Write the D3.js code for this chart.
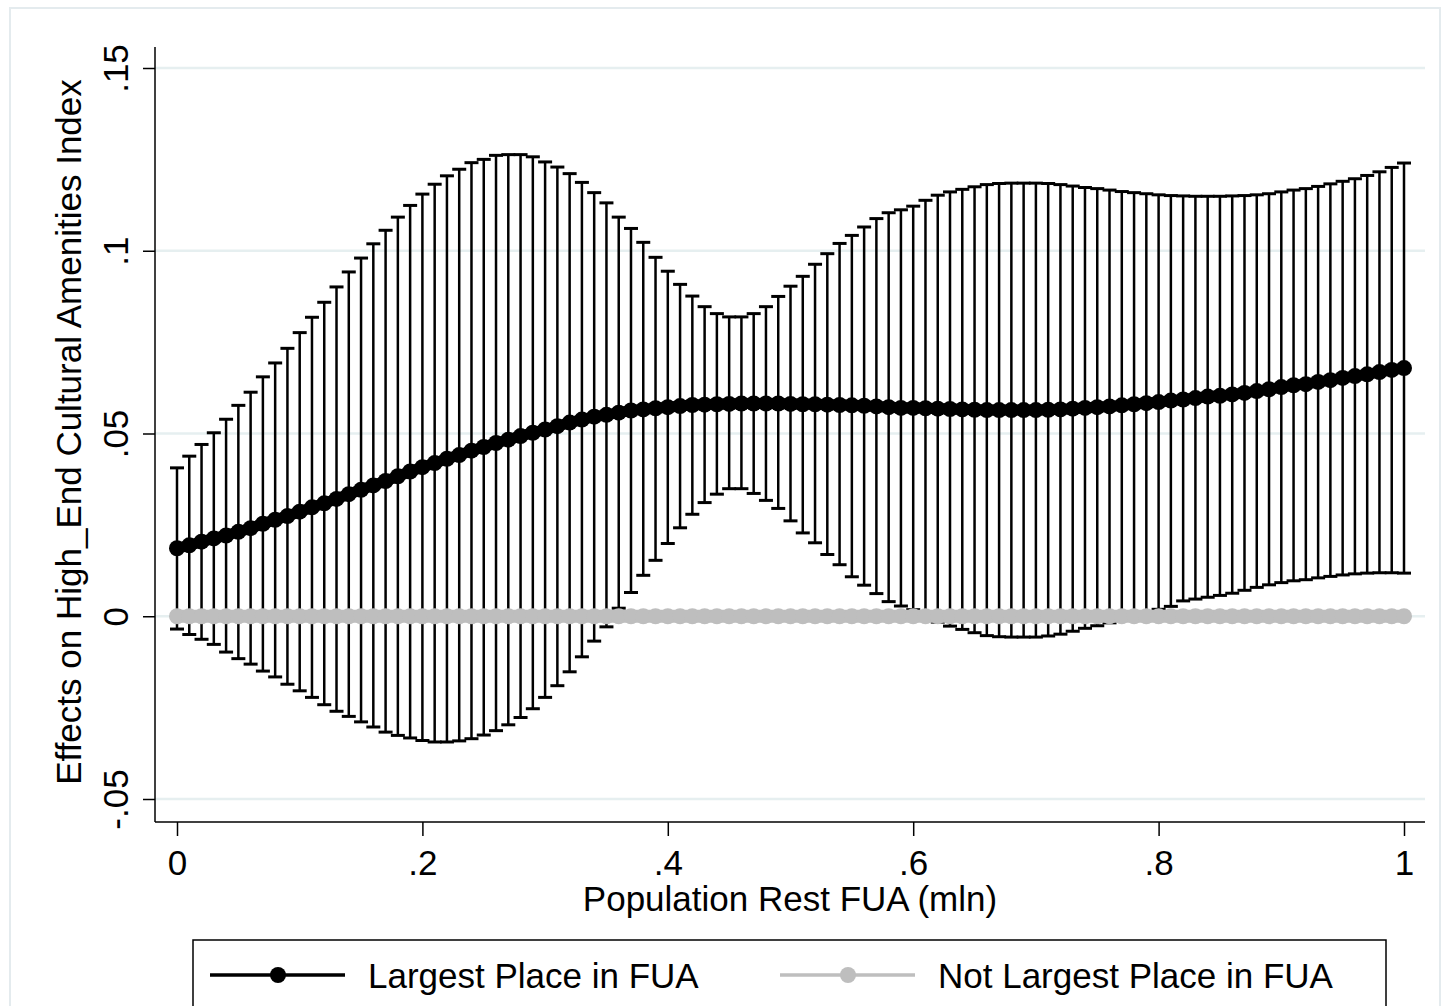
<!DOCTYPE html>
<html>
<head>
<meta charset="utf-8">
<script src="https://cdn.jsdelivr.net/npm/d3@7"></script>
<style>
  body { margin: 0; background: #fff; }
  svg text { font-family: "Liberation Sans", Arial, sans-serif; fill: #000; }
</style>
</head>
<body>
<div id="chart"></div>
<script>
// marginsplot data: population of rest of FUA (mln) at steps of .01
const xVals = [0,0.01,0.02,0.03,0.04,0.05,0.06,0.07,0.08,0.09,0.1,0.11,0.12,0.13,0.14,0.15,0.16,0.17,0.18,0.19,
  0.2,0.21,0.22,0.23,0.24,0.25,0.26,0.27,0.28,0.29,0.3,0.31,0.32,0.33,0.34,0.35,0.36,0.37,0.38,0.39,
  0.4,0.41,0.42,0.43,0.44,0.45,0.46,0.47,0.48,0.49,0.5,0.51,0.52,0.53,0.54,0.55,0.56,0.57,0.58,0.59,
  0.6,0.61,0.62,0.63,0.64,0.65,0.66,0.67,0.68,0.69,0.7,0.71,0.72,0.73,0.74,0.75,0.76,0.77,0.78,0.79,
  0.8,0.81,0.82,0.83,0.84,0.85,0.86,0.87,0.88,0.89,0.9,0.91,0.92,0.93,0.94,0.95,0.96,0.97,0.98,0.99,1];

// Largest Place in FUA: point estimate and 95% CI
const largestEst = [0.0186,0.0194,0.0204,0.0213,0.0221,0.0231,0.0241,0.0253,0.0264,0.0274,
  0.0286,0.0298,0.0309,0.0321,0.0334,0.0346,0.0358,0.0370,0.0383,0.0396,
  0.0408,0.0419,0.0431,0.0441,0.0453,0.0463,0.0474,0.0483,0.0493,0.0502,
  0.0511,0.0520,0.0530,0.0538,0.0546,0.0551,0.0557,0.0563,0.0566,0.0569,
  0.0572,0.0575,0.0578,0.0579,0.0580,0.0581,0.0582,0.0582,0.0582,0.0582,
  0.0581,0.0580,0.0580,0.0579,0.0578,0.0577,0.0576,0.0574,0.0572,0.0570,
  0.0570,0.0569,0.0568,0.0567,0.0566,0.0565,0.0564,0.0564,0.0564,0.0564,
  0.0564,0.0565,0.0566,0.0568,0.0570,0.0572,0.0574,0.0577,0.0580,0.0583,
  0.0586,0.0590,0.0593,0.0597,0.0601,0.0603,0.0607,0.0611,0.0616,0.0621,
  0.0627,0.0632,0.0635,0.0641,0.0646,0.0652,0.0657,0.0662,0.0668,0.0674,0.0679];
const largestHi = [0.0406,0.0438,0.0470,0.0502,0.0539,0.0577,0.0613,0.0655,0.0693,0.0733,
  0.0776,0.0818,0.0859,0.0901,0.0942,0.0980,0.1019,0.1056,0.1092,0.1124,
  0.1155,0.1182,0.1205,0.1223,0.1241,0.1250,0.1261,0.1263,0.1263,0.1257,
  0.1243,0.1229,0.1211,0.1187,0.1159,0.1131,0.1092,0.1061,0.1023,0.0982,
  0.0944,0.0908,0.0876,0.0847,0.0828,0.0819,0.0819,0.0828,0.0847,0.0875,
  0.0903,0.0930,0.0963,0.0992,0.1020,0.1042,0.1065,0.1088,0.1104,0.1112,
  0.1122,0.1138,0.1152,0.1161,0.1168,0.1175,0.1181,0.1184,0.1185,0.1185,
  0.1185,0.1184,0.1181,0.1177,0.1173,0.1170,0.1166,0.1162,0.1159,0.1156,
  0.1153,0.1151,0.1150,0.1149,0.1149,0.1149,0.1150,0.1151,0.1153,0.1156,
  0.1161,0.1166,0.1170,0.1176,0.1183,0.1190,0.1197,0.1206,0.1216,0.1228,0.1240];
const largestLo = [-0.0035,-0.0050,-0.0063,-0.0077,-0.0098,-0.0116,-0.0131,-0.0150,-0.0166,-0.0186,
  -0.0204,-0.0222,-0.0242,-0.0260,-0.0274,-0.0289,-0.0303,-0.0317,-0.0326,-0.0333,
  -0.0340,-0.0344,-0.0344,-0.0341,-0.0335,-0.0325,-0.0313,-0.0297,-0.0277,-0.0253,
  -0.0222,-0.0190,-0.0152,-0.0111,-0.0068,-0.0029,0.0022,0.0065,0.0112,0.0153,
  0.0199,0.0242,0.0279,0.0311,0.0334,0.0349,0.0349,0.0336,0.0317,0.0295,
  0.0261,0.0228,0.0201,0.0169,0.0141,0.0108,0.0085,0.0062,0.0040,0.0028,
  0.0018,0.0000,-0.0016,-0.0027,-0.0036,-0.0045,-0.0053,-0.0056,-0.0057,-0.0057,
  -0.0057,-0.0054,-0.0049,-0.0041,-0.0033,-0.0026,-0.0018,-0.0008,0.0001,0.0010,
  0.0019,0.0027,0.0042,0.0047,0.0052,0.0057,0.0063,0.0071,0.0079,0.0086,
  0.0092,0.0097,0.0100,0.0105,0.0109,0.0113,0.0116,0.0118,0.0119,0.0119,0.0118];

// Not Largest Place in FUA: base category, effect is zero everywhere
const notLargestEst = [0,0,0,0,0,0,0,0,0,0, 0,0,0,0,0,0,0,0,0,0, 0,0,0,0,0,0,0,0,0,0,
  0,0,0,0,0,0,0,0,0,0, 0,0,0,0,0,0,0,0,0,0, 0,0,0,0,0,0,0,0,0,0,
  0,0,0,0,0,0,0,0,0,0, 0,0,0,0,0,0,0,0,0,0, 0,0,0,0,0,0,0,0,0,0,
  0,0,0,0,0,0,0,0,0,0, 0];

const xTicks = [0, 0.2, 0.4, 0.6, 0.8, 1];
const yTicks = [-0.05, 0, 0.05, 0.1, 0.15];
const seriesNames = ["Largest Place in FUA", "Not Largest Place in FUA"];
const seriesColors = ["#000000", "#bebebe"];

const width = 1449, height = 1006;
const plot = {left: 155, right: 1425, top: 47, bottom: 822};

const svg = d3.select("#chart").append("svg")
    .attr("width", width)
    .attr("height", height);

// outer graph region frame
svg.append("rect")
    .attr("x", 10).attr("y", 8)
    .attr("width", 1430).attr("height", 1030)
    .attr("fill", "none")
    .attr("stroke", "#e4ebee")
    .attr("stroke-width", 2);

const x = d3.scaleLinear().domain([0, 1]).range([177, 1404]);
const y = d3.scaleLinear().domain([-0.05, 0.15]).range([799, 68]);

const fmt = d => String(+d.toFixed(2)).replace(/^(-?)0\./, "$1.");

// gridlines
svg.append("g")
  .selectAll("line")
  .data(yTicks)
  .join("line")
    .attr("x1", plot.left).attr("x2", plot.right)
    .attr("y1", d => y(d)).attr("y2", d => y(d))
    .attr("stroke", "#e6eff0")
    .attr("stroke-width", 2.5);

// x axis
const xAxis = svg.append("g")
    .attr("transform", `translate(0,${plot.bottom})`)
    .call(d3.axisBottom(x).tickValues(xTicks).tickFormat(fmt).tickSize(14).tickSizeOuter(0));
xAxis.select(".domain").remove();
xAxis.selectAll(".tick line").attr("stroke", "#000").attr("stroke-width", 1.5);
xAxis.selectAll(".tick text")
    .attr("y", 0).attr("dy", null)
    .attr("transform", "translate(0,53)")
    .style("font-size", "35px");
xAxis.append("line")
    .attr("x1", plot.left).attr("x2", plot.right)
    .attr("stroke", "#000").attr("stroke-width", 1.5);

// y axis
const yAxis = svg.append("g")
    .attr("transform", `translate(${plot.left},0)`)
    .call(d3.axisLeft(y).tickValues(yTicks).tickFormat(fmt).tickSize(12).tickSizeOuter(0));
yAxis.select(".domain").remove();
yAxis.selectAll(".tick line").attr("stroke", "#000").attr("stroke-width", 1.5);
yAxis.selectAll(".tick text")
    .attr("x", null).attr("dy", null)
    .attr("text-anchor", "middle")
    .attr("transform", "translate(-27,0) rotate(-90)")
    .style("font-size", "35px");
yAxis.append("line")
    .attr("y1", plot.top).attr("y2", plot.bottom)
    .attr("stroke", "#000").attr("stroke-width", 1.5);

// axis titles
svg.append("text")
    .attr("x", 790).attr("y", 911)
    .attr("text-anchor", "middle")
    .style("font-size", "35px")
    .text("Population Rest FUA (mln)");
svg.append("text")
    .attr("transform", "translate(81,432) rotate(-90)")
    .attr("text-anchor", "middle")
    .style("font-size", "35px")
    .text("Effects on High_End Cultural Amenities Index");

// confidence intervals (rcap)
const ci = xVals.map((v, i) => ({x: v, lo: largestLo[i], hi: largestHi[i]}));
const capW = 7;
const ciG = svg.append("g");
ciG.selectAll("line.stem")
  .data(ci)
  .join("line")
    .attr("class", "stem")
    .attr("x1", d => x(d.x)).attr("x2", d => x(d.x))
    .attr("y1", d => y(d.lo)).attr("y2", d => y(d.hi))
    .attr("stroke", "#000").attr("stroke-width", 2.5);
["lo", "hi"].forEach(k => {
  ciG.selectAll("line.cap-" + k)
    .data(ci)
    .join("line")
      .attr("class", "cap-" + k)
      .attr("x1", d => x(d.x) - capW).attr("x2", d => x(d.x) + capW)
      .attr("y1", d => y(d[k])).attr("y2", d => y(d[k]))
      .attr("stroke", "#000").attr("stroke-width", 3);
});

// connected lines with markers
const line = d3.line().x(d => x(d[0])).y(d => y(d[1]));
[largestEst, notLargestEst].forEach((vals, s) => {
  const pts = xVals.map((v, i) => [v, vals[i]]);
  const g = svg.append("g");
  g.append("path")
      .attr("d", line(pts))
      .attr("fill", "none")
      .attr("stroke", seriesColors[s])
      .attr("stroke-width", s === 0 ? 11 : 13);
  g.selectAll("circle")
    .data(pts)
    .join("circle")
      .attr("cx", d => x(d[0]))
      .attr("cy", d => y(d[1]))
      .attr("r", 8)
      .attr("fill", seriesColors[s]);
});

// legend
const legend = svg.append("g");
legend.append("rect")
    .attr("x", 193).attr("y", 940)
    .attr("width", 1193).attr("height", 100)
    .attr("fill", "#fff")
    .attr("stroke", "#000").attr("stroke-width", 1.5);
const legendItems = [
  {x0: 210, tx: 368},
  {x0: 780, tx: 938}
];
legendItems.forEach((it, s) => {
  legend.append("line")
      .attr("x1", it.x0).attr("x2", it.x0 + 135)
      .attr("y1", 975).attr("y2", 975)
      .attr("stroke", seriesColors[s]).attr("stroke-width", 3.5);
  legend.append("circle")
      .attr("cx", it.x0 + 68).attr("cy", 975)
      .attr("r", 8)
      .attr("fill", seriesColors[s]);
  legend.append("text")
      .attr("x", it.tx).attr("y", 988)
      .style("font-size", "35px")
      .text(seriesNames[s]);
});
</script>
</body>
</html>
